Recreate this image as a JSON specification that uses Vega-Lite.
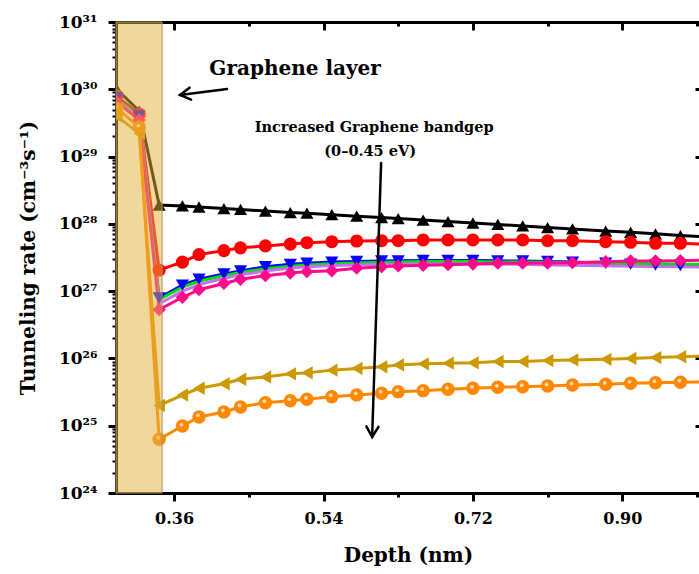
{
 "$schema": "https://vega.github.io/schema/vega-lite/v6.json",
 "width": 584,
 "height": 471,
 "autosize": {"type": "none"},
 "padding": {"left": 116, "top": 22, "right": 0, "bottom": 81},
 "background": "white",
 "config": {
  "view": {"stroke": null},
  "axis": {"grid": false, "domainColor": "black", "tickColor": "black", "labelColor": "black", "titleColor": "black", "labelFont": "DejaVu Serif", "titleFont": "DejaVu Serif", "labelFontWeight": "bold", "titleFontWeight": "bold", "labelOverlap": false, "labelFlush": false, "labelBound": false}
 },
 "datasets": {
  "series": [
   {"s":"A","x":0.291,"y":1.0e30},{"s":"A","x":0.318,"y":4.75e29},{"s":"A","x":0.342,"y":1.9e28},{"s":"A","x":0.37,"y":1.85e28},{"s":"A","x":0.39,"y":1.78e28},{"s":"A","x":0.42,"y":1.69e28},{"s":"A","x":0.44,"y":1.64e28},{"s":"A","x":0.47,"y":1.55e28},{"s":"A","x":0.5,"y":1.47e28},{"s":"A","x":0.52,"y":1.44e28},{"s":"A","x":0.55,"y":1.37e28},{"s":"A","x":0.58,"y":1.30e28},{"s":"A","x":0.61,"y":1.24e28},{"s":"A","x":0.63,"y":1.20e28},{"s":"A","x":0.66,"y":1.14e28},{"s":"A","x":0.69,"y":1.08e28},{"s":"A","x":0.72,"y":1.03e28},{"s":"A","x":0.75,"y":9.8e27},{"s":"A","x":0.78,"y":9.3e27},{"s":"A","x":0.81,"y":8.8e27},{"s":"A","x":0.84,"y":8.4e27},{"s":"A","x":0.88,"y":7.8e27},{"s":"A","x":0.91,"y":7.5e27},{"s":"A","x":0.94,"y":7.1e27},{"s":"A","x":0.97,"y":6.7e27},{"s":"A","x":1.0,"y":6.4e27},
   {"s":"B","x":0.291,"y":7.9e29},{"s":"B","x":0.318,"y":4.3e29},{"s":"B","x":0.342,"y":2.06e27},{"s":"B","x":0.37,"y":2.7e27},{"s":"B","x":0.39,"y":3.5e27},{"s":"B","x":0.42,"y":4.0e27},{"s":"B","x":0.44,"y":4.4e27},{"s":"B","x":0.47,"y":4.7e27},{"s":"B","x":0.5,"y":5.0e27},{"s":"B","x":0.52,"y":5.25e27},{"s":"B","x":0.55,"y":5.43e27},{"s":"B","x":0.58,"y":5.56e27},{"s":"B","x":0.61,"y":5.62e27},{"s":"B","x":0.63,"y":5.62e27},{"s":"B","x":0.66,"y":5.76e27},{"s":"B","x":0.69,"y":5.76e27},{"s":"B","x":0.72,"y":5.76e27},{"s":"B","x":0.75,"y":5.76e27},{"s":"B","x":0.78,"y":5.76e27},{"s":"B","x":0.81,"y":5.62e27},{"s":"B","x":0.84,"y":5.62e27},{"s":"B","x":0.88,"y":5.43e27},{"s":"B","x":0.91,"y":5.32e27},{"s":"B","x":0.94,"y":5.14e27},{"s":"B","x":0.97,"y":5.14e27},{"s":"B","x":1.0,"y":5.0e27},
   {"s":"C","x":0.291,"y":7.4e29},{"s":"C","x":0.318,"y":4.0e29},{"s":"C","x":0.342,"y":7.9e26},{"s":"C","x":0.37,"y":1.23e27},{"s":"C","x":0.39,"y":1.5e27},{"s":"C","x":0.42,"y":1.8e27},{"s":"C","x":0.44,"y":2.0e27},{"s":"C","x":0.47,"y":2.3e27},{"s":"C","x":0.5,"y":2.5e27},{"s":"C","x":0.52,"y":2.6e27},{"s":"C","x":0.55,"y":2.7e27},{"s":"C","x":0.58,"y":2.75e27},{"s":"C","x":0.61,"y":2.8e27},{"s":"C","x":0.63,"y":2.82e27},{"s":"C","x":0.66,"y":2.85e27},{"s":"C","x":0.69,"y":2.85e27},{"s":"C","x":0.72,"y":2.85e27},{"s":"C","x":0.75,"y":2.82e27},{"s":"C","x":0.78,"y":2.8e27},{"s":"C","x":0.81,"y":2.75e27},{"s":"C","x":0.84,"y":2.7e27},{"s":"C","x":0.88,"y":2.6e27},{"s":"C","x":0.91,"y":2.52e27},{"s":"C","x":0.94,"y":2.45e27},{"s":"C","x":0.97,"y":2.4e27},{"s":"C","x":1.0,"y":2.35e27},
   {"s":"D","x":0.291,"y":7.2e29},{"s":"D","x":0.318,"y":3.9e29},{"s":"D","x":0.342,"y":7.5e26},{"s":"D","x":0.37,"y":1.15e27},{"s":"D","x":0.39,"y":1.4e27},{"s":"D","x":0.42,"y":1.7e27},{"s":"D","x":0.44,"y":1.9e27},{"s":"D","x":0.47,"y":2.15e27},{"s":"D","x":0.5,"y":2.35e27},{"s":"D","x":0.52,"y":2.45e27},{"s":"D","x":0.55,"y":2.55e27},{"s":"D","x":0.58,"y":2.62e27},{"s":"D","x":0.61,"y":2.68e27},{"s":"D","x":0.63,"y":2.72e27},{"s":"D","x":0.66,"y":2.75e27},{"s":"D","x":0.69,"y":2.75e27},{"s":"D","x":0.72,"y":2.75e27},{"s":"D","x":0.75,"y":2.72e27},{"s":"D","x":0.78,"y":2.7e27},{"s":"D","x":0.81,"y":2.68e27},{"s":"D","x":0.84,"y":2.65e27},{"s":"D","x":0.88,"y":2.6e27},{"s":"D","x":0.91,"y":2.58e27},{"s":"D","x":0.94,"y":2.55e27},{"s":"D","x":0.97,"y":2.52e27},{"s":"D","x":1.0,"y":2.5e27},
   {"s":"E","x":0.291,"y":6.9e29},{"s":"E","x":0.318,"y":3.7e29},{"s":"E","x":0.342,"y":6.5e26},{"s":"E","x":0.37,"y":1.0e27},{"s":"E","x":0.39,"y":1.25e27},{"s":"E","x":0.42,"y":1.55e27},{"s":"E","x":0.44,"y":1.75e27},{"s":"E","x":0.47,"y":2.0e27},{"s":"E","x":0.5,"y":2.2e27},{"s":"E","x":0.52,"y":2.3e27},{"s":"E","x":0.55,"y":2.4e27},{"s":"E","x":0.58,"y":2.45e27},{"s":"E","x":0.61,"y":2.5e27},{"s":"E","x":0.63,"y":2.52e27},{"s":"E","x":0.66,"y":2.55e27},{"s":"E","x":0.69,"y":2.55e27},{"s":"E","x":0.72,"y":2.55e27},{"s":"E","x":0.75,"y":2.52e27},{"s":"E","x":0.78,"y":2.5e27},{"s":"E","x":0.81,"y":2.45e27},{"s":"E","x":0.84,"y":2.42e27},{"s":"E","x":0.88,"y":2.38e27},{"s":"E","x":0.91,"y":2.35e27},{"s":"E","x":0.94,"y":2.32e27},{"s":"E","x":0.97,"y":2.3e27},{"s":"E","x":1.0,"y":2.28e27},
   {"s":"F","x":0.291,"y":6.5e29},{"s":"F","x":0.318,"y":3.5e29},{"s":"F","x":0.342,"y":5.3e26},{"s":"F","x":0.37,"y":8.1e26},{"s":"F","x":0.39,"y":1.05e27},{"s":"F","x":0.42,"y":1.3e27},{"s":"F","x":0.44,"y":1.5e27},{"s":"F","x":0.47,"y":1.7e27},{"s":"F","x":0.5,"y":1.86e27},{"s":"F","x":0.52,"y":1.95e27},{"s":"F","x":0.55,"y":2.01e27},{"s":"F","x":0.58,"y":2.19e27},{"s":"F","x":0.61,"y":2.31e27},{"s":"F","x":0.63,"y":2.37e27},{"s":"F","x":0.66,"y":2.42e27},{"s":"F","x":0.69,"y":2.47e27},{"s":"F","x":0.72,"y":2.53e27},{"s":"F","x":0.75,"y":2.6e27},{"s":"F","x":0.78,"y":2.6e27},{"s":"F","x":0.81,"y":2.62e27},{"s":"F","x":0.84,"y":2.65e27},{"s":"F","x":0.88,"y":2.74e27},{"s":"F","x":0.91,"y":2.81e27},{"s":"F","x":0.94,"y":2.81e27},{"s":"F","x":0.97,"y":2.84e27},{"s":"F","x":1.0,"y":2.88e27},
   {"s":"G","x":0.291,"y":4.0e29},{"s":"G","x":0.318,"y":2.2e29},{"s":"G","x":0.342,"y":2.0e25},{"s":"G","x":0.37,"y":2.86e25},{"s":"G","x":0.39,"y":3.6e25},{"s":"G","x":0.42,"y":4.2e25},{"s":"G","x":0.44,"y":4.9e25},{"s":"G","x":0.47,"y":5.3e25},{"s":"G","x":0.5,"y":5.9e25},{"s":"G","x":0.52,"y":6.1e25},{"s":"G","x":0.55,"y":6.7e25},{"s":"G","x":0.58,"y":7.1e25},{"s":"G","x":0.61,"y":7.5e25},{"s":"G","x":0.63,"y":8.0e25},{"s":"G","x":0.66,"y":8.3e25},{"s":"G","x":0.69,"y":8.5e25},{"s":"G","x":0.72,"y":8.6e25},{"s":"G","x":0.75,"y":9.0e25},{"s":"G","x":0.78,"y":9.0e25},{"s":"G","x":0.81,"y":9.3e25},{"s":"G","x":0.84,"y":9.5e25},{"s":"G","x":0.88,"y":9.7e25},{"s":"G","x":0.91,"y":1.0e26},{"s":"G","x":0.94,"y":1.03e26},{"s":"G","x":0.97,"y":1.06e26},{"s":"G","x":1.0,"y":1.08e26},
   {"s":"H","x":0.291,"y":5.2e29},{"s":"H","x":0.318,"y":2.75e29},{"s":"H","x":0.342,"y":6.3e24},{"s":"H","x":0.37,"y":9.9e24},{"s":"H","x":0.39,"y":1.35e25},{"s":"H","x":0.42,"y":1.6e25},{"s":"H","x":0.44,"y":1.9e25},{"s":"H","x":0.47,"y":2.2e25},{"s":"H","x":0.5,"y":2.35e25},{"s":"H","x":0.52,"y":2.47e25},{"s":"H","x":0.55,"y":2.70e25},{"s":"H","x":0.58,"y":2.87e25},{"s":"H","x":0.61,"y":3.04e25},{"s":"H","x":0.63,"y":3.21e25},{"s":"H","x":0.66,"y":3.32e25},{"s":"H","x":0.69,"y":3.48e25},{"s":"H","x":0.72,"y":3.60e25},{"s":"H","x":0.75,"y":3.73e25},{"s":"H","x":0.78,"y":3.80e25},{"s":"H","x":0.81,"y":3.90e25},{"s":"H","x":0.84,"y":4.03e25},{"s":"H","x":0.88,"y":4.13e25},{"s":"H","x":0.91,"y":4.27e25},{"s":"H","x":0.94,"y":4.36e25},{"s":"H","x":0.97,"y":4.43e25},{"s":"H","x":1.0,"y":4.5e25}
  ],
  "shade": [{"x": 0.29, "x2": 0.3455, "y": 1e24, "y2": 1e31}],
  "labels": [
   {"t": "Graphene layer", "x": 0.5058, "y": 2.0e30, "size": 20},
   {"t": "Increased Graphene bandgep", "x": 0.601, "y": 2.66e29, "size": 14.5},
   {"t": "(0–0.45 eV)", "x": 0.5962, "y": 1.17e29, "size": 14.5}
  ],
  "arrows": [
   {"a": "a1", "o": 0, "x": 0.4238, "y": 1.009e30},
   {"a": "a1", "o": 1, "x": 0.3671, "y": 8.23e29},
   {"a": "h1", "o": 0, "x": 0.3805, "y": 7.03e29},
   {"a": "h1", "o": 1, "x": 0.3671, "y": 8.23e29},
   {"a": "h1", "o": 2, "x": 0.3786, "y": 1.056e30},
   {"a": "a2", "o": 0, "x": 0.6094, "y": 8.03e28},
   {"a": "a2", "o": 1, "x": 0.5986, "y": 6.8e24},
   {"a": "h2", "o": 0, "x": 0.6062, "y": 9.64e24},
   {"a": "h2", "o": 1, "x": 0.5986, "y": 6.8e24},
   {"a": "h2", "o": 2, "x": 0.5917, "y": 9.77e24}
  ]
 },
 "resolve": {"axis": {"x": "independent", "y": "independent"}},
 "layer": [
  {
   "data": {"name": "series"},
   "mark": {"type": "line", "strokeWidth": 3, "clip": true},
   "encoding": {
    "x": {"field": "x", "type": "quantitative",
     "scale": {"domain": [0.29, 0.9936], "nice": false, "zero": false},
     "axis": {"orient": "bottom", "title": "Depth (nm)", "values": [0.36, 0.45, 0.54, 0.63, 0.72, 0.81, 0.9, 0.99],
      "labelExpr": "indexof([0.36, 0.54, 0.72, 0.9], datum.value) >= 0 ? format(datum.value, '.2f') : ''",
      "tickSize": {"condition": {"test": "indexof([0.36, 0.54, 0.72, 0.9], datum.value) >= 0", "value": 8}, "value": 4},
      "tickWidth": 3, "domainWidth": 3, "labelFontSize": 16, "labelPadding": 9, "titleFontSize": 20, "titlePadding": 19}},
    "y": {"field": "y", "type": "quantitative",
     "scale": {"type": "log", "domain": [1e24, 1e31], "nice": false},
     "axis": {"orient": "left", "title": "Tunneling rate (cm⁻³s⁻¹)",
      "values": [1e24,2e24,3e24,4e24,5e24,6e24,7e24,8e24,9e24,1e25,2e25,3e25,4e25,5e25,6e25,7e25,8e25,9e25,1e26,2e26,3e26,4e26,5e26,6e26,7e26,8e26,9e26,1e27,2e27,3e27,4e27,5e27,6e27,7e27,8e27,9e27,1e28,2e28,3e28,4e28,5e28,6e28,7e28,8e28,9e28,1e29,2e29,3e29,4e29,5e29,6e29,7e29,8e29,9e29,1e30,2e30,3e30,4e30,5e30,6e30,7e30,8e30,9e30,1e31],
      "labelExpr": "abs(log(datum.value)/LN10 - round(log(datum.value)/LN10)) < 0.01 ? '10' + substring('⁰¹²³⁴⁵⁶⁷⁸⁹', floor(round(log(datum.value)/LN10)/10), floor(round(log(datum.value)/LN10)/10) + 1) + substring('⁰¹²³⁴⁵⁶⁷⁸⁹', round(log(datum.value)/LN10) % 10, round(log(datum.value)/LN10) % 10 + 1) : ''",
      "tickSize": {"condition": {"test": "abs(log(datum.value)/LN10 - round(log(datum.value)/LN10)) < 0.01", "value": 8}, "value": 4},
      "tickWidth": {"condition": {"test": "abs(log(datum.value)/LN10 - round(log(datum.value)/LN10)) < 0.01", "value": 3}, "value": 2},
      "domainWidth": 3, "labelFontSize": 17, "labelPadding": 11, "titleFontSize": 20, "titlePadding": 20}},
    "color": {"field": "s", "type": "nominal", "legend": null,
     "scale": {"domain": ["A","B","C","D","E","F","G","H"], "range": ["#000000","#FF0000","#0000FF","#00E000","#C86EF0","#FF0A8C","#CC9900","#FF8800"]}}
   }
  },
  {
   "data": {"name": "series"},
   "transform": [{"filter": "datum.s != 'D' && datum.s != 'E'"}],
   "mark": {"type": "point", "filled": true, "opacity": 1, "clip": true},
   "encoding": {
    "x": {"field": "x", "type": "quantitative",
     "scale": {"domain": [0.29, 0.9936], "nice": false, "zero": false},
     "axis": {"orient": "top", "title": null, "labels": false, "values": [0.36, 0.45, 0.54, 0.63, 0.72, 0.81, 0.9, 0.99],
      "tickSize": {"condition": {"test": "indexof([0.36, 0.54, 0.72, 0.9], datum.value) >= 0", "value": -8}, "value": -4},
      "tickWidth": 3, "domainWidth": 3}},
    "y": {"field": "y", "type": "quantitative",
     "scale": {"type": "log", "domain": [1e24, 1e31], "nice": false},
     "axis": {"orient": "right", "title": null, "labels": false, "values": [1e24,1e25,1e26,1e27,1e28,1e29,1e30,1e31],
      "tickSize": -5, "tickWidth": 3, "domainWidth": 3}},
    "color": {"field": "s", "type": "nominal", "legend": null,
     "scale": {"domain": ["A","B","C","D","E","F","G","H"], "range": ["#000000","#FF0000","#0000FF","#00E000","#C86EF0","#FF0A8C","#CC9900","#FF8800"]}},
    "shape": {"field": "s", "type": "nominal", "legend": null,
     "scale": {"domain": ["A","B","C","F","G","H"], "range": ["triangle-up","circle","triangle-down","diamond","triangle-left","circle"]}},
    "size": {"field": "s", "type": "nominal", "legend": null,
     "scale": {"domain": ["A","B","C","F","G","H"], "range": [170, 180, 150, 200, 180, 95]}}
   }
  },
  {
   "data": {"name": "series"},
   "transform": [{"filter": "datum.s == 'H'"}],
   "mark": {"type": "circle", "size": 14, "color": "#FFE8D0", "opacity": 0.9, "xOffset": -1, "yOffset": -1.5, "clip": true},
   "encoding": {
    "x": {"field": "x", "type": "quantitative", "axis": null},
    "y": {"field": "y", "type": "quantitative", "axis": null}
   }
  },
  {
   "data": {"name": "shade"},
   "mark": {"type": "rect", "fill": "#E6B03C", "fillOpacity": 0.5, "stroke": "#A8925E", "strokeWidth": 1},
   "encoding": {
    "x": {"field": "x", "type": "quantitative", "axis": null},
    "x2": {"field": "x2"},
    "y": {"field": "y", "type": "quantitative", "axis": null},
    "y2": {"field": "y2"}
   }
  },
  {
   "data": {"name": "labels"},
   "mark": {"type": "text", "font": "DejaVu Serif", "fontWeight": "bold", "color": "black", "align": "center", "baseline": "middle"},
   "encoding": {
    "x": {"field": "x", "type": "quantitative", "axis": null},
    "y": {"field": "y", "type": "quantitative", "axis": null},
    "text": {"field": "t"},
    "size": {"field": "size", "type": "quantitative", "scale": null, "legend": null}
   }
  },
  {
   "data": {"name": "arrows"},
   "mark": {"type": "line", "color": "black", "strokeWidth": 2.5, "strokeCap": "round", "strokeJoin": "miter"},
   "encoding": {
    "x": {"field": "x", "type": "quantitative", "axis": null},
    "y": {"field": "y", "type": "quantitative", "axis": null},
    "detail": {"field": "a"},
    "order": {"field": "o"}
   }
  }
 ]
}
